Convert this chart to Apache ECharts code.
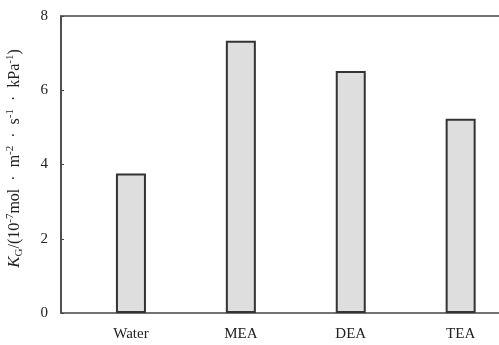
<!DOCTYPE html>
<html><head><meta charset="utf-8">
<script src="https://cdn.jsdelivr.net/npm/echarts@6/dist/echarts.min.js"></script>
<style>html,body{margin:0;padding:0;background:#fff}#c{width:499px;height:345px}</style>
</head><body><div id="c"></div>
<script>
const categories = ['Water', 'MEA', 'DEA', 'TEA'];
const kgValues = [3.76, 7.33, 6.52, 5.23];
const yTicks = [0, 2, 4, 6, 8];

const chart = echarts.init(document.getElementById('c'));
const serif = '"Liberation Serif", "DejaVu Serif", serif';
chart.setOption({
  animation: false,
  backgroundColor: '#fff',
  grid: [
    {left: 61, top: 16, bottom: 32, width: 445, outerBoundsMode: 'none', containLabel: false,
     show: true, borderColor: '#444', borderWidth: 1.5, backgroundColor: 'transparent'},
    {left: 76, top: 16, bottom: 32, width: 439.6, outerBoundsMode: 'none', containLabel: false}
  ],
  xAxis: [
    {gridIndex: 0, type: 'value', show: false},
    {gridIndex: 1, type: 'category', data: categories,
     axisLine: {show: false}, axisTick: {show: false},
     axisLabel: {fontFamily: serif, fontSize: 15, color: '#222', margin: 14}}
  ],
  yAxis: [
    {gridIndex: 0, type: 'value', min: yTicks[0], max: yTicks[yTicks.length - 1], interval: 2,
     axisLine: {show: true, lineStyle: {color: '#444', width: 1.5}},
     axisTick: {show: true, inside: true, length: 3, lineStyle: {color: '#444'}},
     splitLine: {show: false},
     axisLabel: {fontFamily: serif, fontSize: 15, color: '#222', margin: 13},
     name: '{k|K}{sub|G}{t|/(10}{sup|-7}{t|mol  ·  m}{sup|-2}{t|  ·  s}{sup|-1}{t|  ·  kPa}{sup|-1}{t|)}',
     nameLocation: 'middle', nameRotate: 90, nameGap: 36,
     nameTextStyle: {
       padding: [0, 0, 0, 12],
       rich: {
         k: {fontFamily: serif, fontStyle: 'italic', fontSize: 17, color: '#222'},
         t: {fontFamily: serif, fontSize: 16, color: '#222'},
         sub: {fontFamily: serif, fontSize: 11, color: '#222', padding: [9, 0, 0, 0]},
         sup: {fontFamily: serif, fontSize: 11, color: '#222', padding: [0, 0, 9, 0]}
       }
     }},
    {gridIndex: 1, type: 'value', min: 0, max: 8, show: false}
  ],
  series: [{
    type: 'bar', xAxisIndex: 1, yAxisIndex: 1,
    data: kgValues, barWidth: 30,
    itemStyle: {color: '#dedede', borderColor: '#333', borderWidth: 2}
  }]
});
</script></body></html>
